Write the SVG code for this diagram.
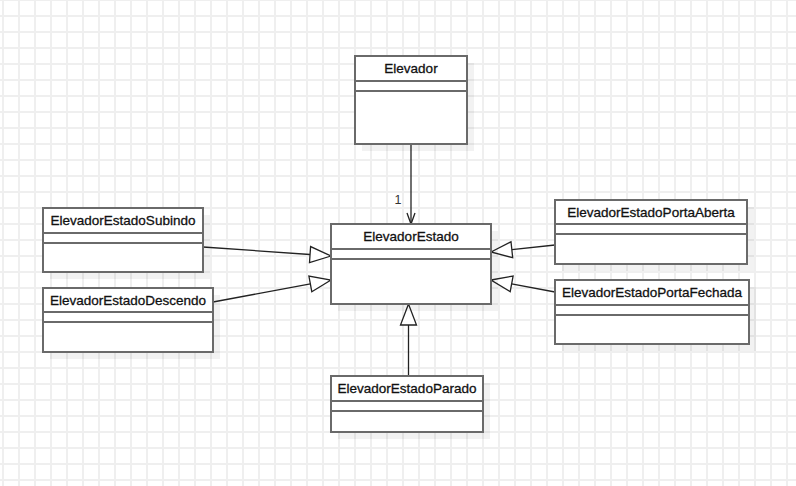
<svg xmlns="http://www.w3.org/2000/svg" width="796" height="486" viewBox="0 0 796 486">
<style>
.box{fill:#fff;stroke:#6a6a6a;stroke-width:2}
.sep{stroke:#6a6a6a;stroke-width:2;fill:none}
.shadow{fill:#000;fill-opacity:0.05}
.t{font-family:"Liberation Sans",Arial,sans-serif;font-size:13.5px;fill:#111;stroke:#111;stroke-width:0.3;text-anchor:middle}
.lbl{font-family:"Liberation Sans",Arial,sans-serif;font-size:12.5px;fill:#333;text-anchor:middle}
.edge{stroke:#222;stroke-width:1.3;fill:none}
.tri{stroke:#222;stroke-width:1.3;fill:#fff}
</style>
<defs>
<pattern id="grid" patternUnits="userSpaceOnUse" x="2" y="-1" width="16" height="16">
<path d="M1 0 V16 M0 1 H16" stroke="#efefef" stroke-width="2" fill="none"/>
</pattern>
</defs>
<rect width="796" height="486" fill="#fff"/>
<rect width="796" height="486" fill="url(#grid)"/>

<g id="connectors">
<line class="edge" x1="411" y1="144" x2="411" y2="224"/>
<polyline class="edge" points="407,213 411,224 415,213"/>
<text class="lbl" x="398" y="204">1</text>

<line class="edge" x1="203" y1="247" x2="310" y2="254.5"/>
<polygon class="tri" points="331,256 309.5,262.5 310.6,246.6"/>

<line class="edge" x1="213" y1="302" x2="310.4" y2="283.9"/>
<polygon class="tri" points="331,280 311.8,291.7 308.9,276"/>

<line class="edge" x1="555" y1="245" x2="511.9" y2="249.7"/>
<polygon class="tri" points="491,252 511,241.8 512.7,257.7"/>

<line class="edge" x1="555" y1="292" x2="511.6" y2="283.9"/>
<polygon class="tri" points="491,280 513.1,276 510.2,291.7"/>

<line class="edge" x1="408.5" y1="376" x2="408.5" y2="325"/>
<polygon class="tri" points="408.5,304 400.5,325 416.5,325"/>
</g>

<g id="Elevador">
<rect class="shadow" x="362" y="63" width="112" height="88"/>
<rect class="box" x="355" y="56" width="112" height="88"/>
<path class="sep" d="M355 81 H467 M355 91 H467"/>
<text class="t" x="411" y="73">Elevador</text>
</g>

<g id="ElevadorEstado">
<rect class="shadow" x="338" y="231" width="160" height="80"/>
<rect class="box" x="331" y="224" width="160" height="80"/>
<path class="sep" d="M331 249 H491 M331 259 H491"/>
<text class="t" x="411" y="241">ElevadorEstado</text>
</g>

<g id="ElevadorEstadoSubindo">
<rect class="shadow" x="50" y="215" width="160" height="64"/>
<rect class="box" x="43" y="208" width="160" height="64"/>
<path class="sep" d="M43 233 H203 M43 243 H203"/>
<text class="t" x="123" y="225">ElevadorEstadoSubindo</text>
</g>

<g id="ElevadorEstadoDescendo">
<rect class="shadow" x="50" y="295" width="170" height="64"/>
<rect class="box" x="43" y="288" width="170" height="64"/>
<path class="sep" d="M43 312 H213 M43 322 H213"/>
<text class="t" x="128" y="305">ElevadorEstadoDescendo</text>
</g>

<g id="ElevadorEstadoPortaAberta">
<rect class="shadow" x="562" y="207" width="192" height="64"/>
<rect class="box" x="555" y="200" width="192" height="64"/>
<path class="sep" d="M555 224 H747 M555 234 H747"/>
<text class="t" x="651" y="217">ElevadorEstadoPortaAberta</text>
</g>

<g id="ElevadorEstadoPortaFechada">
<rect class="shadow" x="562" y="287" width="194" height="64"/>
<rect class="box" x="555" y="280" width="194" height="64"/>
<path class="sep" d="M555 305 H749 M555 315 H749"/>
<text class="t" x="652" y="297">ElevadorEstadoPortaFechada</text>
</g>

<g id="ElevadorEstadoParado">
<rect class="shadow" x="338" y="383" width="152" height="56"/>
<rect class="box" x="331" y="376" width="152" height="56"/>
<path class="sep" d="M331 401 H483 M331 411 H483"/>
<text class="t" x="407" y="393">ElevadorEstadoParado</text>
</g>
</svg>
